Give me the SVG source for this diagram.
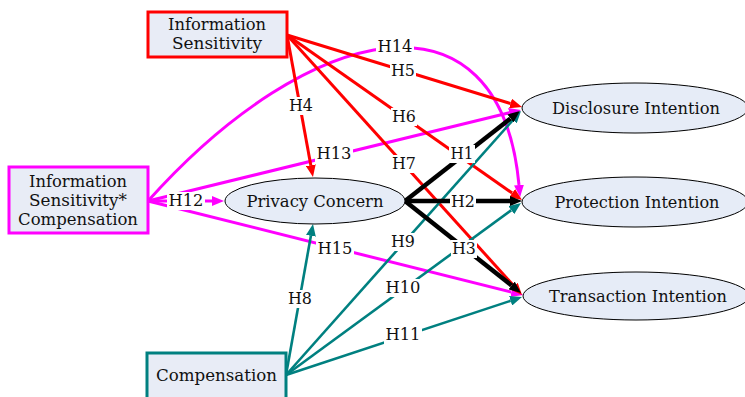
<svg xmlns="http://www.w3.org/2000/svg" width="745" height="397" viewBox="0 0 745 397" font-family="'DejaVu Serif', 'Liberation Serif', serif">
  <defs>
    <style>
      .box { fill: #e8ecf6; stroke-width: 3; }
      .ell { fill: #e6ecf7; stroke: #000; stroke-width: 1; }
      .nt { font-size: 17px; fill: #111; text-anchor: middle; }
      .lt { font-size: 17px; fill: #111; text-anchor: middle; }
      .bg { fill: #fff; }
      .r { stroke: #ff0000; stroke-width: 3; fill: none; marker-end: url(#ar); }
      .m { stroke: #ff00ff; stroke-width: 3; fill: none; marker-end: url(#am); }
      .k { stroke: #000; stroke-width: 4.5; fill: none; marker-end: url(#ak); }
      .t { stroke: #008080; stroke-width: 2.6; fill: none; marker-end: url(#at); }
    </style>
    <marker id="ar" markerUnits="userSpaceOnUse" markerWidth="12" markerHeight="10" refX="0" refY="5" orient="auto"><path d="M0,0 L12,5 L0,10 z" fill="#ff0000"/></marker>
    <marker id="am" markerUnits="userSpaceOnUse" markerWidth="12" markerHeight="10" refX="0" refY="5" orient="auto"><path d="M0,0 L12,5 L0,10 z" fill="#ff00ff"/></marker>
    <marker id="ak" markerUnits="userSpaceOnUse" markerWidth="12" markerHeight="10" refX="0" refY="5" orient="auto"><path d="M0,0 L12,5 L0,10 z" fill="#000"/></marker>
    <marker id="at" markerUnits="userSpaceOnUse" markerWidth="12" markerHeight="10" refX="0" refY="5" orient="auto"><path d="M0,0 L12,5 L0,10 z" fill="#008080"/></marker>
  </defs>

  <rect width="745" height="397" fill="#fff"/>

  <!-- connectors -->
  <g id="connectors">
    <!-- moderation effects (magenta) -->
    <path class="m" d="M148,201 C310,20 500,-20 519,185"/>
    <path class="m" d="M148,201 L212,201"/>
    <path class="m" d="M148,201 L509.3,112.8"/>
    <path class="m" d="M148,201 L511.4,292.1"/>
    <!-- information sensitivity (red) -->
    <path class="r" d="M287,35 L310.8,165.2"/>
    <path class="r" d="M287,35 L510.5,103.5"/>
    <path class="r" d="M287,35 L512.2,193.1"/>
    <path class="r" d="M287,35 L514,286.1"/>
    <!-- compensation (teal) -->
    <path class="t" d="M286,375 L310.9,235.8"/>
    <path class="t" d="M286,375 L513,120"/>
    <path class="t" d="M286,375 L511.3,210.1"/>
    <path class="t" d="M286,375 L510.6,300.8"/>
    <!-- privacy concern (black) -->
    <path class="k" d="M405,201 L510.5,118.4"/>
    <path class="k" d="M405,201 L510,201"/>
    <path class="k" d="M405,201 L511.6,285.5"/>

    <!-- path labels -->
    <g id="labels">
      <rect class="bg" x="376" y="38" width="38" height="18"/><text class="lt" x="395" y="52" textLength="35" lengthAdjust="spacingAndGlyphs">H14</text>
      <rect class="bg" x="390" y="62" width="26" height="18"/><text class="lt" x="403" y="76" textLength="24" lengthAdjust="spacingAndGlyphs">H5</text>
      <rect class="bg" x="391" y="108" width="26" height="18"/><text class="lt" x="404" y="122" textLength="24" lengthAdjust="spacingAndGlyphs">H6</text>
      <rect class="bg" x="391" y="155" width="26" height="18"/><text class="lt" x="404" y="169" textLength="24" lengthAdjust="spacingAndGlyphs">H7</text>
      <rect class="bg" x="288" y="97" width="26" height="18"/><text class="lt" x="301" y="111" textLength="24" lengthAdjust="spacingAndGlyphs">H4</text>
      <rect class="bg" x="315" y="145" width="38" height="18"/><text class="lt" x="334" y="159" textLength="35" lengthAdjust="spacingAndGlyphs">H13</text>
      <rect class="bg" x="167" y="192" width="38" height="18"/><text class="lt" x="186" y="206" textLength="35" lengthAdjust="spacingAndGlyphs">H12</text>
      <rect class="bg" x="316" y="240" width="38" height="18"/><text class="lt" x="335" y="254" textLength="35" lengthAdjust="spacingAndGlyphs">H15</text>
      <rect class="bg" x="449" y="145" width="26" height="18"/><text class="lt" x="462" y="159" textLength="23" lengthAdjust="spacingAndGlyphs">H1</text>
      <rect class="bg" x="450" y="193" width="26" height="18"/><text class="lt" x="463" y="207" textLength="24" lengthAdjust="spacingAndGlyphs">H2</text>
      <rect class="bg" x="451" y="240" width="26" height="18"/><text class="lt" x="464" y="254" textLength="24" lengthAdjust="spacingAndGlyphs">H3</text>
      <rect class="bg" x="390" y="233" width="26" height="18"/><text class="lt" x="403" y="247" textLength="24" lengthAdjust="spacingAndGlyphs">H9</text>
      <rect class="bg" x="384" y="279" width="38" height="18"/><text class="lt" x="403" y="293" textLength="35" lengthAdjust="spacingAndGlyphs">H10</text>
      <rect class="bg" x="287" y="290" width="26" height="18"/><text class="lt" x="300" y="304" textLength="24" lengthAdjust="spacingAndGlyphs">H8</text>
      <rect class="bg" x="384" y="326" width="38" height="18"/><text class="lt" x="403" y="340" textLength="35" lengthAdjust="spacingAndGlyphs">H11</text>
    </g>
  </g>

  <!-- nodes -->
  <g id="info-sensitivity">
    <rect class="box" x="148" y="12" width="139" height="45" stroke="#ff0000"/>
    <text class="nt" x="217" y="30" textLength="98" lengthAdjust="spacingAndGlyphs">Information</text>
    <text class="nt" x="217" y="49" textLength="90" lengthAdjust="spacingAndGlyphs">Sensitivity</text>
  </g>

  <g id="interaction">
    <rect class="box" x="9" y="167" width="139" height="66" stroke="#ff00ff"/>
    <text class="nt" x="78" y="187" textLength="98" lengthAdjust="spacingAndGlyphs">Information</text>
    <text class="nt" x="78" y="206" textLength="98" lengthAdjust="spacingAndGlyphs">Sensitivity*</text>
    <text class="nt" x="78" y="225" textLength="120" lengthAdjust="spacingAndGlyphs">Compensation</text>
  </g>

  <g id="compensation">
    <rect class="box" x="147" y="353" width="139" height="52" stroke="#008080"/>
    <text class="nt" x="216.5" y="381" textLength="121" lengthAdjust="spacingAndGlyphs">Compensation</text>
  </g>

  <g id="privacy-concern">
    <ellipse class="ell" cx="315" cy="201" rx="90" ry="23"/>
    <text class="nt" x="315" y="207" textLength="137" lengthAdjust="spacingAndGlyphs">Privacy Concern</text>
  </g>

  <g id="disclosure-intention">
    <ellipse class="ell" cx="635" cy="108" rx="113" ry="25"/>
    <text class="nt" x="636" y="114" textLength="168" lengthAdjust="spacingAndGlyphs">Disclosure Intention</text>
  </g>

  <g id="protection-intention">
    <ellipse class="ell" cx="635" cy="202" rx="113" ry="25"/>
    <text class="nt" x="637" y="208" textLength="165" lengthAdjust="spacingAndGlyphs">Protection Intention</text>
  </g>

  <g id="transaction-intention">
    <ellipse class="ell" cx="636" cy="296" rx="113" ry="24"/>
    <text class="nt" x="638" y="302" textLength="178" lengthAdjust="spacingAndGlyphs">Transaction Intention</text>
  </g>
</svg>
